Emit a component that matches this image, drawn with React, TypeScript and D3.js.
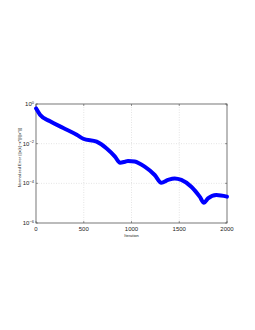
import React from 'react';
import * as d3 from 'd3';

// values (iteration, log10 of normalized error)
const iterations = [0, 42, 147, 286, 426, 495, 635, 740, 827, 880, 932, 963, 1033, 1138, 1243, 1312, 1382, 1452, 1522, 1626, 1714, 1759, 1801, 1888, 2000];
const logErrors = [-0.22, -0.54, -0.87, -1.21, -1.55, -1.75, -1.9, -2.24, -2.65, -2.96, -2.91, -2.87, -2.9, -3.16, -3.58, -3.97, -3.83, -3.75, -3.83, -4.17, -4.67, -4.98, -4.76, -4.59, -4.67];
const xTicks = [0, 500, 1000, 1500, 2000];
const yTickExps = [0, -2, -4, -6];

const W = 255;
const H = 330;
const margin = { left: 36, right: 28, top: 104, bottom: 107 };

const App: React.FC = () => {
  const x = d3.scaleLinear().domain([0, 2000]).range([margin.left, W - margin.right]);
  const y = d3.scaleLog().domain([1e-6, 1]).range([H - margin.bottom, margin.top]);

  const data = iterations.map((it, i) => [it, Math.pow(10, logErrors[i])] as [number, number]);
  const line = d3.line<[number, number]>()
    .x(d => x(d[0]))
    .y(d => y(d[1]))
    .curve(d3.curveMonotoneX);

  const x0 = x(0), x1 = x(2000), y0 = y(1e-6), y1 = y(1);
  const font = '"Liberation Sans", Arial, sans-serif';

  return (
    <svg width={W} height={H} style={{ position: 'absolute', left: 0, top: 0, background: '#fff' }} fontFamily={font}>
      {/* grid */}
      {xTicks.slice(1, -1).map(t => (
        <line key={'gx' + t} x1={x(t)} x2={x(t)} y1={y0} y2={y1} stroke="#c8c8c8" strokeWidth={0.5} strokeDasharray="1,1.5" />
      ))}
      {yTickExps.slice(1, -1).map(e => (
        <line key={'gy' + e} x1={x0} x2={x1} y1={y(Math.pow(10, e))} y2={y(Math.pow(10, e))} stroke="#c8c8c8" strokeWidth={0.5} strokeDasharray="1,1.5" />
      ))}

      {/* box */}
      <rect x={x0} y={y1} width={x1 - x0} height={y0 - y1} fill="none" stroke="#555" strokeWidth={0.8} />

      {/* ticks */}
      {xTicks.map(t => (
        <g key={'xt' + t}>
          <line x1={x(t)} x2={x(t)} y1={y0} y2={y0 - 2} stroke="#555" strokeWidth={0.6} />
          <line x1={x(t)} x2={x(t)} y1={y1} y2={y1 + 2} stroke="#555" strokeWidth={0.6} />
          <text x={x(t)} y={y0 + 8} fontSize={6} textAnchor="middle" fill="#222">{t}</text>
        </g>
      ))}
      {yTickExps.map(e => {
        const py = y(Math.pow(10, e));
        return (
          <g key={'yt' + e}>
            <line x1={x0} x2={x0 + 2} y1={py} y2={py} stroke="#555" strokeWidth={0.6} />
            <line x1={x1} x2={x1 - 2} y1={py} y2={py} stroke="#555" strokeWidth={0.6} />
            <text x={x0 - 2} y={py + 2} fontSize={6} textAnchor="end" fill="#222">
              10<tspan dy={-2.5} fontSize={4}>{e === 0 ? '0' : '\u2212' + Math.abs(e)}</tspan>
            </text>
          </g>
        );
      })}

      {/* curve */}
      <path d={line(data) || ''} fill="none" stroke="#0000ff" strokeWidth={4} strokeLinecap="round" strokeLinejoin="round" />

      {/* labels */}
      <text x={(x0 + x1) / 2} y={y0 + 13.5} fontSize={4} textAnchor="middle" fill="#222">Iteration</text>
      <text transform={`translate(21,${(y0 + y1) / 2 - 6}) rotate(-90)`} fontSize={4} textAnchor="middle" fill="#222">
        Normalized Error (||x(k)−x*||/||x*||)
      </text>
    </svg>
  );
};

export default App;
